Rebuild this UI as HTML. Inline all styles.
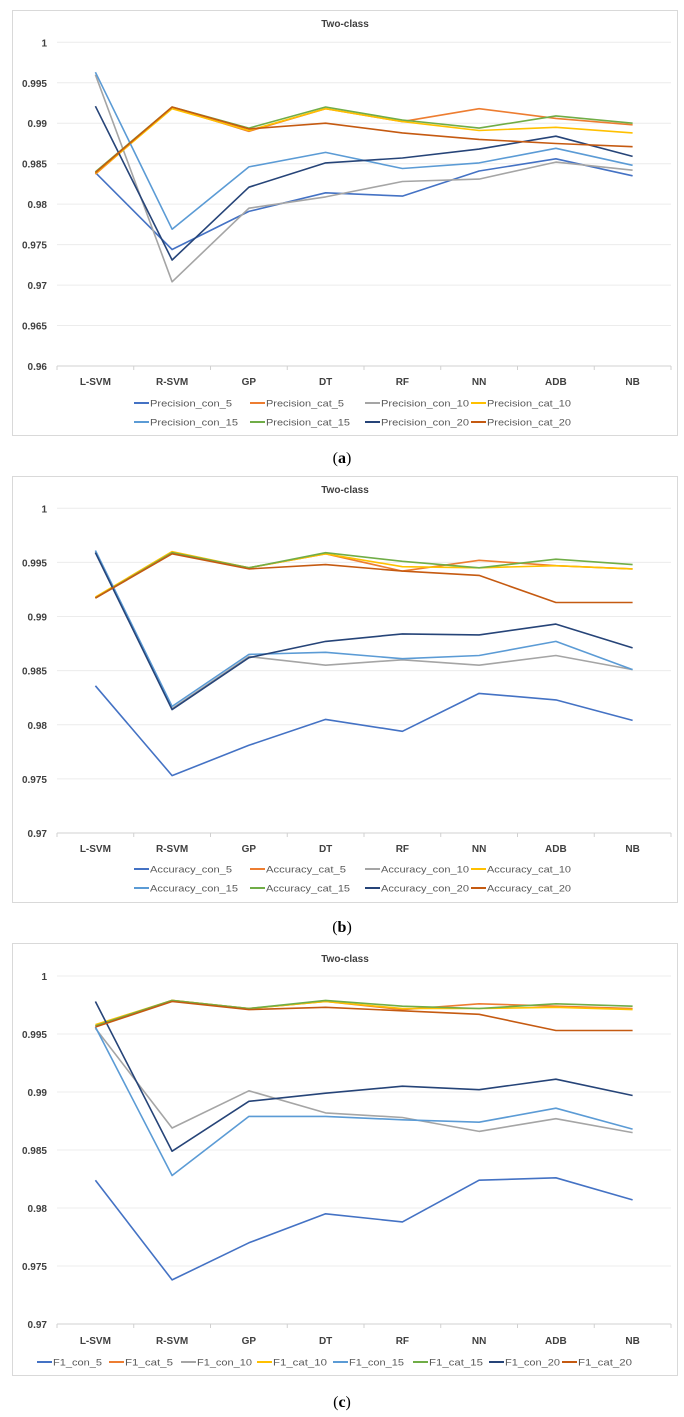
<!DOCTYPE html>
<html><head><meta charset="utf-8">
<style>
html,body{margin:0;padding:0;background:#fff;}
svg{display:block;font-family:"Liberation Sans",sans-serif;}
</style></head>
<body>
<svg id="fig" width="684" height="1417" viewBox="0 0 684 1417" xmlns="http://www.w3.org/2000/svg"></svg>
<script>
const categories = ["L-SVM","R-SVM","GP","DT","RF","NN","ADB","NB"];
const seriesSuffixes = ["con_5","cat_5","con_10","cat_10","con_15","cat_15","con_20","cat_20"];
const seriesColors = ["#4472C4","#ED7D31","#A5A5A5","#FFC000","#5B9BD5","#70AD47","#264478","#C55A11"];

const precisionCon5 = [0.9839,0.9744,0.9791,0.9814,0.9810,0.9841,0.9856,0.9835];
const precisionCat5 = [0.9837,0.9919,0.9890,0.9918,0.9902,0.9918,0.9906,0.9898];
const precisionCon10 = [0.9960,0.9704,0.9795,0.9809,0.9828,0.9831,0.9852,0.9842];
const precisionCat10 = [0.9838,0.9918,0.9891,0.9918,0.9902,0.9891,0.9895,0.9888];
const precisionCon15 = [0.9963,0.9769,0.9846,0.9864,0.9844,0.9851,0.9869,0.9848];
const precisionCat15 = [0.9840,0.9920,0.9894,0.9920,0.9904,0.9894,0.9909,0.9900];
const precisionCon20 = [0.9921,0.9731,0.9821,0.9851,0.9857,0.9868,0.9884,0.9859];
const precisionCat20 = [0.9839,0.9920,0.9893,0.9900,0.9888,0.9880,0.9875,0.9871];

const accuracyCon5 = [0.9836,0.9753,0.9781,0.9805,0.9794,0.9829,0.9823,0.9804];
const accuracyCat5 = [0.9917,0.9959,0.9945,0.9958,0.9942,0.9952,0.9947,0.9944];
const accuracyCon10 = [0.9960,0.9815,0.9863,0.9855,0.9860,0.9855,0.9864,0.9851];
const accuracyCat10 = [0.9918,0.9960,0.9945,0.9958,0.9946,0.9945,0.9947,0.9944];
const accuracyCon15 = [0.9961,0.9817,0.9865,0.9867,0.9861,0.9864,0.9877,0.9851];
const accuracyCat15 = [0.9917,0.9959,0.9945,0.9959,0.9951,0.9945,0.9953,0.9948];
const accuracyCon20 = [0.9959,0.9814,0.9862,0.9877,0.9884,0.9883,0.9893,0.9871];
const accuracyCat20 = [0.9917,0.9958,0.9944,0.9948,0.9942,0.9938,0.9913,0.9913];

const f1Con5 = [0.9824,0.9738,0.9770,0.9795,0.9788,0.9824,0.9826,0.9807];
const f1Cat5 = [0.9957,0.9979,0.9972,0.9978,0.9971,0.9976,0.9974,0.9972];
const f1Con10 = [0.9955,0.9869,0.9901,0.9882,0.9878,0.9866,0.9877,0.9865];
const f1Cat10 = [0.9958,0.9979,0.9972,0.9978,0.9972,0.9972,0.9973,0.9971];
const f1Con15 = [0.9956,0.9828,0.9879,0.9879,0.9876,0.9874,0.9886,0.9868];
const f1Cat15 = [0.9957,0.9979,0.9972,0.9979,0.9974,0.9972,0.9976,0.9974];
const f1Con20 = [0.9978,0.9849,0.9892,0.9899,0.9905,0.9902,0.9911,0.9897];
const f1Cat20 = [0.9956,0.9978,0.9971,0.9973,0.9970,0.9967,0.9953,0.9953];

const ticksA = [0.96,0.965,0.97,0.975,0.98,0.985,0.99,0.995,1];
const tickLabelsA = ["0.96","0.965","0.97","0.975","0.98","0.985","0.99","0.995","1"];
const ticksBC = [0.97,0.975,0.98,0.985,0.99,0.995,1];
const tickLabelsBC = ["0.97","0.975","0.98","0.985","0.99","0.995","1"];

const NS="http://www.w3.org/2000/svg";
const svg=document.getElementById('fig');
function mk(tag,attrs,parent){const e=document.createElementNS(NS,tag);for(const k in attrs)e.setAttribute(k,attrs[k]);(parent||svg).appendChild(e);return e;}

function panel(cfg){
  const g=mk('g',{});
  
  
  const box=mk('rect',{x:12.5,y:cfg.top+.5,width:665,height:cfg.bottom-cfg.top,fill:'#fff',stroke:'#d9d9d9','stroke-width':1},g);
  
  
  const t=mk('text',{x:345,y:cfg.titleY+4,'text-anchor':'middle','font-size':10,'font-weight':'bold',fill:'#404040'},g);
  t.textContent='Two-class';
  
  
  const x0=57,x1=671,step=(x1-x0)/categories.length;
  const yScale=v=>cfg.yMaxPx+(cfg.vmax-v)/(cfg.vmax-cfg.vmin)*(cfg.yMinPx-cfg.yMaxPx);
  const xScale=i=>x0+step*(i+0.5);
  cfg.ticks.forEach((v,i)=>{
    const y=yScale(v);
    const gl=mk('line',{x1:x0,x2:x1,y1:y,y2:y,stroke:i===0?'#d0d0d0':'#ececec','stroke-width':1},g);
    
    
    const tl=mk('text',{x:47,y:y+4,'text-anchor':'end','font-size':10,'font-weight':'bold',fill:'#404040'},g);
    tl.textContent=cfg.tickLabels[i];
    
    
  });
  const yb=yScale(cfg.vmin);
  for(let i=0;i<=categories.length;i++){
    const tk=mk('line',{x1:x0+step*i,x2:x0+step*i,y1:yb,y2:yb+4,stroke:'#d0d0d0'},g);
    
    
  }
  categories.forEach((c,i)=>{
    const tl=mk('text',{x:xScale(i),y:cfg.xLabelY+4,'text-anchor':'middle','font-size':10,'font-weight':'bold',fill:'#404040'},g);
    tl.textContent=c;
    
    
  });
  cfg.series.forEach((vals,s)=>{
    const pts=vals.map((v,i)=>xScale(i).toFixed(1)+','+yScale(v).toFixed(1)).join(' ');
    const pl=mk('polyline',{points:pts,fill:'none',stroke:seriesColors[s],'stroke-width':1.6,'stroke-linejoin':'round'},g);
    
    
  });
  seriesSuffixes.forEach((suf,s)=>{
    const p=cfg.legendPos[s];
    const lg=mk('g',{},g);
    
    
    mk('line',{x1:p[0],x2:p[0]+15,y1:p[1],y2:p[1],stroke:seriesColors[s],'stroke-width':2},lg);
    const lt=mk('text',{x:p[0]+16,y:p[1]+3.5,'font-size':9.5,fill:'#595959',textLength:cfg.textLen[s],lengthAdjust:'spacingAndGlyphs'},lg);
    lt.textContent=cfg.prefix+suf;
  });
  const cap=mk('text',{x:342,y:cfg.capY+5,'text-anchor':'middle','font-size':16,'font-family':'"Liberation Serif",serif',fill:'#000'},svg);
  
  
  cap.innerHTML='(<tspan font-weight="bold">'+cfg.cap+'</tspan>)';
}

const lx=[134,250,365,471];
panel({name:'precision-chart',prefix:'Precision_',top:10,bottom:435,titleY:23,yMaxPx:42.3,yMinPx:366,vmin:0.96,vmax:1,
  ticks:ticksA,tickLabels:tickLabelsA,xLabelY:381,
  series:[precisionCon5,precisionCat5,precisionCon10,precisionCat10,precisionCon15,precisionCat15,precisionCon20,precisionCat20],
  legendPos:[[lx[0],403],[lx[1],403],[lx[2],403],[lx[3],403],[lx[0],422],[lx[1],422],[lx[2],422],[lx[3],422]],
  textLen:[82,78,88,84,88,84,88,84],capY:458,cap:'a'});
panel({name:'accuracy-chart',prefix:'Accuracy_',top:476,bottom:902,titleY:489,yMaxPx:508.3,yMinPx:833,vmin:0.97,vmax:1,
  ticks:ticksBC,tickLabels:tickLabelsBC,xLabelY:848,
  series:[accuracyCon5,accuracyCat5,accuracyCon10,accuracyCat10,accuracyCon15,accuracyCat15,accuracyCon20,accuracyCat20],
  legendPos:[[lx[0],869],[lx[1],869],[lx[2],869],[lx[3],869],[lx[0],888],[lx[1],888],[lx[2],888],[lx[3],888]],
  textLen:[82,80,88,84,88,84,88,84],capY:927,cap:'b'});
const cx=[37,109,181,257,333,413,489,562];
panel({name:'f1-chart',prefix:'F1_',top:943,bottom:1375,titleY:958,yMaxPx:976,yMinPx:1324,vmin:0.97,vmax:1,
  ticks:ticksBC,tickLabels:tickLabelsBC,xLabelY:1340,
  series:[f1Con5,f1Cat5,f1Con10,f1Cat10,f1Con15,f1Cat15,f1Con20,f1Cat20],
  legendPos:cx.map(x=>[x,1362]),
  textLen:[49,48,55,54,55,54,55,54],capY:1402,cap:'c'});
</script>
</body></html>
